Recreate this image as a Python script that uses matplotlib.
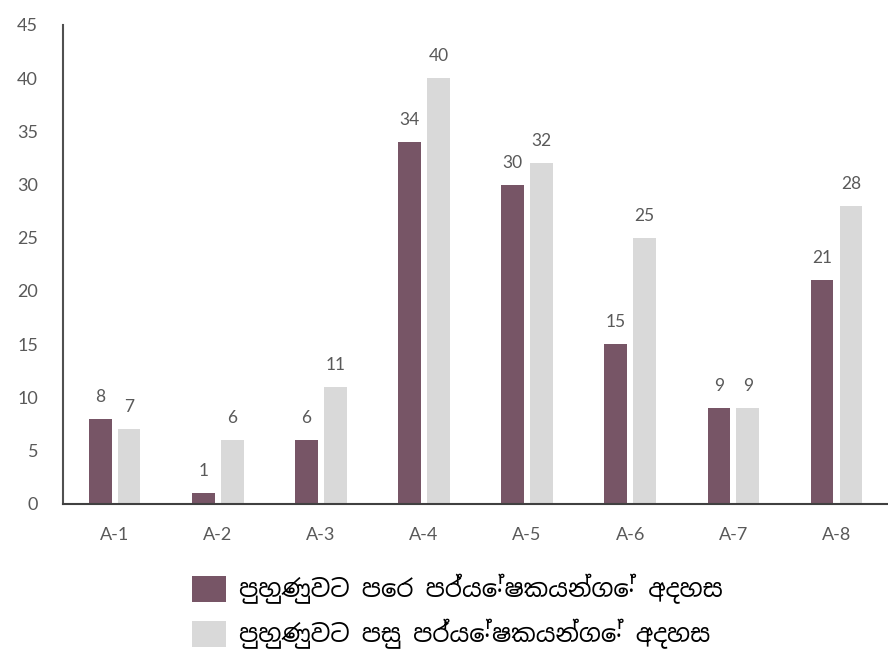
import matplotlib

matplotlib.use("Agg")

import matplotlib.pyplot as plt
import numpy as np

categories = ["A-1", "A-2", "A-3", "A-4", "A-5", "A-6", "A-7", "A-8"]
before = [8, 1, 6, 34, 30, 15, 9, 21]
after = [7, 6, 11, 40, 32, 25, 9, 28]
series_names = [
    "පුහුණුවට පෙර පර්යේෂකයන්ගේ අදහස",
    "පුහුණුවට පසු පර්යේෂකයන්ගේ අදහස",
]

dark = "#775566"
light = "#d9d9d9"
grey_text = "#595959"

plt.rcParams["font.family"] = ["Lato", "DejaVu Sans"]

fig = plt.figure(figsize=(8.88, 6.56), dpi=100)
ax = fig.add_axes([0.071, 0.232, 0.929, 0.73])

x = np.arange(len(categories))
w = 0.22
off = 0.14
b1 = ax.bar(x - off, before, w, color=dark, label=series_names[0])
b2 = ax.bar(x + off, after, w, color=light, label=series_names[1])

# value labels above each bar
for bars in (b1, b2):
    for rect in bars:
        h = rect.get_height()
        ax.annotate(
            f"{h:g}",
            (rect.get_x() + rect.get_width() / 2, h),
            xytext=(0, 10),
            textcoords="offset points",
            ha="center",
            va="bottom",
            fontsize=12.5,
            color=grey_text,
        )

ax.set_xlim(-0.5, len(categories) - 0.5)
ax.set_ylim(0, 45)
ax.set_yticks(range(0, 46, 5))
ax.set_xticks(x)
ax.set_xticklabels(categories)
ax.tick_params(axis="both", length=0, labelsize=13, labelcolor=grey_text)
ax.tick_params(axis="x", pad=17)
ax.tick_params(axis="y", pad=18)

ax.spines["top"].set_visible(False)
ax.spines["right"].set_visible(False)
ax.spines["left"].set_color("#505050")
ax.spines["bottom"].set_color("#404040")
ax.spines["left"].set_linewidth(1.5)
ax.spines["bottom"].set_linewidth(1.5)

fig.legend(
    handles=[b1, b2],
    loc="upper left",
    bbox_to_anchor=(0.205, 0.14),
    frameon=False,
    handlelength=1.4,
    handleheight=1.3,
    handletextpad=0.55,
    labelspacing=0.6,
    borderaxespad=0,
    prop={"family": ["Noto Sans Sinhala", "DejaVu Sans"], "size": 17.5},
)

fig.savefig("out.png", dpi=100)
